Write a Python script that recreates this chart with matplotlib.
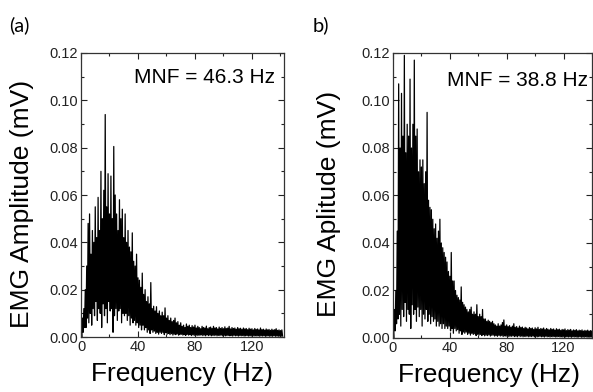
import numpy as np
import matplotlib
matplotlib.use("Agg")
import matplotlib.pyplot as plt
from matplotlib.ticker import MultipleLocator

# spectrum values, one peak and one trough per 1 Hz bin
freq_a = np.arange(0, 142)
peak_a = [0.004, 0.008, 0.012, 0.020, 0.030, 0.048, 0.052, 0.035, 0.045, 0.040,
          0.055, 0.042, 0.059, 0.045, 0.070, 0.050, 0.062, 0.094, 0.055, 0.069,
          0.052, 0.068, 0.050, 0.0805, 0.060, 0.052, 0.045, 0.058, 0.050, 0.054,
          0.042, 0.052, 0.040, 0.045, 0.038, 0.036, 0.044, 0.032, 0.030, 0.035,
          0.025, 0.024, 0.021, 0.027, 0.018, 0.020, 0.015, 0.017, 0.014, 0.023,
          0.012, 0.013, 0.011, 0.0128, 0.010, 0.011, 0.009, 0.0105, 0.009, 0.0123,
          0.008, 0.009, 0.007, 0.008, 0.0065, 0.007, 0.008, 0.006, 0.0065, 0.005,
          0.006, 0.0045, 0.005, 0.004, 0.0055, 0.0045, 0.005, 0.004, 0.0048, 0.0042,
          0.005, 0.0038, 0.0045, 0.004, 0.0035, 0.0045, 0.004, 0.0038, 0.0046, 0.0035,
          0.004, 0.0042, 0.0036, 0.0045, 0.0038, 0.004, 0.0034, 0.0042, 0.0036, 0.004,
          0.0035, 0.0043, 0.0036, 0.0038, 0.0045, 0.0034, 0.004, 0.0036, 0.0038, 0.0033,
          0.004, 0.0035, 0.0037, 0.0032, 0.0038, 0.0034, 0.0036, 0.0031, 0.0037, 0.0033,
          0.0035, 0.003, 0.0036, 0.0032, 0.0034, 0.003, 0.0038, 0.0031, 0.0033, 0.0029,
          0.0034, 0.003, 0.0032, 0.0028, 0.0033, 0.0029, 0.0031, 0.0035, 0.0028, 0.003,
          0.0027, 0.003]
trough_a = [0.000, 0.002, 0.004, 0.004, 0.008, 0.006, 0.010, 0.005, 0.012, 0.009,
            0.015, 0.007, 0.012, 0.010, 0.004, 0.014, 0.009, 0.012, 0.006, 0.015,
            0.011, 0.012, 0.002, 0.009, 0.012, 0.007, 0.011, 0.012, 0.006, 0.010,
            0.009, 0.010, 0.007, 0.009, 0.005, 0.008, 0.006, 0.007, 0.005, 0.006,
            0.004, 0.005, 0.003, 0.005, 0.003, 0.004, 0.002, 0.003, 0.0015, 0.003,
            0.002, 0.0025, 0.0015, 0.002, 0.0012, 0.002, 0.0015, 0.002, 0.001, 0.0018,
            0.0012, 0.0015, 0.001, 0.0014, 0.0008, 0.0012, 0.001, 0.0013, 0.0008, 0.001,
            0.0012, 0.0008, 0.001, 0.0007, 0.0011, 0.0008, 0.001, 0.0006, 0.0009, 0.0007,
            0.001, 0.0006, 0.0008, 0.0007, 0.0009, 0.0006, 0.0008, 0.0005, 0.0009, 0.0006,
            0.0008, 0.0005, 0.0007, 0.0006, 0.0008, 0.0005, 0.0007, 0.0006, 0.0008, 0.0005,
            0.0007, 0.0005, 0.0006, 0.0007, 0.0005, 0.0006, 0.0004, 0.0007, 0.0005, 0.0006,
            0.0004, 0.0006, 0.0005, 0.0006, 0.0004, 0.0005, 0.0006, 0.0004, 0.0005, 0.0004,
            0.0006, 0.0004, 0.0005, 0.0004, 0.0005, 0.0003, 0.0005, 0.0004, 0.0005, 0.0003,
            0.0004, 0.0005, 0.0003, 0.0004, 0.0003, 0.0005, 0.0003, 0.0004, 0.0003, 0.0004,
            0.0003, 0.0004]

freq_b = np.arange(0, 141)
peak_b = [0.005, 0.012, 0.020, 0.045, 0.107, 0.080, 0.103, 0.085, 0.119, 0.078,
          0.090, 0.085, 0.109, 0.080, 0.090, 0.117, 0.085, 0.088, 0.070, 0.075,
          0.072, 0.075, 0.065, 0.070, 0.095, 0.058, 0.055, 0.054, 0.050, 0.046,
          0.048, 0.042, 0.045, 0.050, 0.040, 0.038, 0.036, 0.034, 0.032, 0.028,
          0.026, 0.036, 0.024, 0.024, 0.020, 0.018, 0.017, 0.016, 0.0215, 0.015,
          0.014, 0.013, 0.012, 0.011, 0.012, 0.013, 0.010, 0.011, 0.010, 0.014,
          0.009, 0.010, 0.009, 0.012, 0.008, 0.008, 0.007, 0.0075, 0.007, 0.0065,
          0.007, 0.006, 0.0055, 0.005, 0.006, 0.005, 0.0055, 0.0065, 0.0076, 0.005,
          0.0055, 0.0048, 0.0052, 0.0045, 0.005, 0.006, 0.0045, 0.0048, 0.0042, 0.005,
          0.0044, 0.0046, 0.004, 0.0045, 0.0042, 0.0038, 0.0044, 0.004, 0.0042, 0.0036,
          0.0043, 0.0038, 0.0045, 0.0036, 0.004, 0.0038, 0.0042, 0.0035, 0.004, 0.0037,
          0.0034, 0.004, 0.0036, 0.0038, 0.0033, 0.0039, 0.0035, 0.0037, 0.0032, 0.0036,
          0.0034, 0.0038, 0.0031, 0.0035, 0.0033, 0.0036, 0.003, 0.0034, 0.0032, 0.0035,
          0.003, 0.0033, 0.0031, 0.0034, 0.0029, 0.0032, 0.003, 0.0033, 0.0029, 0.0031,
          0.003]
trough_b = [0.000, 0.003, 0.006, 0.008, 0.010, 0.005, 0.012, 0.009, 0.015, 0.007,
            0.012, 0.010, 0.004, 0.014, 0.010, 0.012, 0.007, 0.013, 0.009, 0.012,
            0.005, 0.010, 0.008, 0.012, 0.007, 0.010, 0.006, 0.009, 0.007, 0.008,
            0.005, 0.007, 0.005, 0.006, 0.004, 0.006, 0.004, 0.005, 0.004, 0.005,
            0.003, 0.004, 0.002, 0.004, 0.003, 0.0035, 0.002, 0.003, 0.0015, 0.0025,
            0.002, 0.0025, 0.0015, 0.002, 0.0012, 0.002, 0.0015, 0.0018, 0.001, 0.0016,
            0.0012, 0.0015, 0.001, 0.0014, 0.0009, 0.0012, 0.001, 0.0013, 0.0008, 0.0011,
            0.0012, 0.0008, 0.001, 0.0007, 0.0011, 0.0008, 0.001, 0.0006, 0.0009, 0.0007,
            0.001, 0.0006, 0.0008, 0.0007, 0.0009, 0.0006, 0.0008, 0.0005, 0.0009, 0.0006,
            0.0008, 0.0005, 0.0007, 0.0006, 0.0008, 0.0005, 0.0007, 0.0006, 0.0008, 0.0005,
            0.0007, 0.0005, 0.0006, 0.0007, 0.0005, 0.0006, 0.0004, 0.0007, 0.0005, 0.0006,
            0.0004, 0.0006, 0.0005, 0.0006, 0.0004, 0.0005, 0.0006, 0.0004, 0.0005, 0.0004,
            0.0006, 0.0004, 0.0005, 0.0004, 0.0005, 0.0003, 0.0005, 0.0004, 0.0005, 0.0003,
            0.0004, 0.0005, 0.0003, 0.0004, 0.0003, 0.0005, 0.0003, 0.0004, 0.0003, 0.0004,
            0.0003]

mnf_a = "MNF = 46.3 Hz"
mnf_b = "MNF = 38.8 Hz"

plt.rcParams['font.family'] = ['Liberation Sans', 'DejaVu Sans']


def zigzag(freq, peak, trough):
    # peak at each bin, trough half a bin later
    x = np.column_stack([freq, freq + 0.5]).ravel()
    y = np.column_stack([peak, trough]).ravel()
    return x, y


def style_axes(ax, xmax):
    ax.set_xlim(0, xmax)
    ax.set_ylim(0, 0.12)
    ax.xaxis.set_major_locator(MultipleLocator(40))
    ax.xaxis.set_minor_locator(MultipleLocator(20))
    ax.yaxis.set_major_locator(MultipleLocator(0.02))
    ax.yaxis.set_minor_locator(MultipleLocator(0.01))
    ax.yaxis.set_major_formatter(matplotlib.ticker.FormatStrFormatter('%.2f'))
    ax.tick_params(which='both', direction='in', top=True, right=True,
                   labelsize=10.5, width=0.8, pad=2, colors='#222222',
                   labelcolor='#222222')
    ax.tick_params(which='major', length=4)
    ax.tick_params(which='minor', length=2)
    for s in ax.spines.values():
        s.set_linewidth(0.9)
        s.set_color('#333333')


fig = plt.figure(figsize=(5.93, 3.92), dpi=100)
ax1 = fig.add_axes([0.1366, 0.1403, 0.3423, 0.7245])
ax2 = fig.add_axes([0.6627, 0.1378, 0.3356, 0.727])

x, y = zigzag(freq_a, peak_a, trough_a)
ax1.plot(x, y, color='black', lw=0.9)
style_axes(ax1, 142.5)
ax1.set_xlabel('Frequency (Hz)', fontsize=19)
ax1.set_ylabel('EMG Amplitude (mV)', fontsize=19)
ax1.xaxis.set_label_coords(0.5, -0.13)
ax1.xaxis.label.set_va('center')
ax1.yaxis.set_label_coords(-0.29, 0.47)
ax1.yaxis.label.set_va('center')
ax1.text(0.956, 0.912, mnf_a, transform=ax1.transAxes, ha='right', va='center',
         fontsize=15)

x, y = zigzag(freq_b, peak_b, trough_b)
ax2.plot(x, y, color='black', lw=0.9)
style_axes(ax2, 140)
ax2.set_xlabel('Frequency (Hz)', fontsize=19)
ax2.set_ylabel('EMG Aplitude (mV)', fontsize=19)
ax2.xaxis.set_label_coords(0.48, -0.13)
ax2.xaxis.label.set_va('center')
ax2.yaxis.set_label_coords(-0.32, 0.47)
ax2.yaxis.label.set_va('center')
ax2.text(0.98, 0.905, mnf_b, transform=ax2.transAxes, ha='right', va='center',
         fontsize=15)

fig.text(0.016, 0.935, '(a)', fontsize=14.5, family='Lato', va='center')
fig.text(0.527, 0.935, 'b)', fontsize=14.5, family='Lato', va='center')

fig.savefig('out.png', dpi=100)
plt.close('all')
